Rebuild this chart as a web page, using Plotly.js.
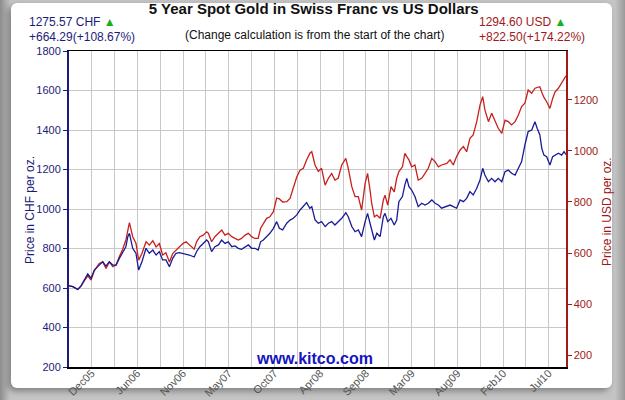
<!DOCTYPE html>
<html>
<head>
<meta charset="utf-8">
<script src="https://cdn.plot.ly/plotly-3.0.1.min.js"></script>
<style>
  html, body { margin: 0; padding: 0; }
  body { width: 625px; height: 400px; position: relative; overflow: hidden;
         background: linear-gradient(to right, #8c8c8c 0px, #c4c4c4 10px, #c4c4c4 615px, #9a9a9a 625px); }
  #frame { position: absolute; left: 11px; top: 3px; width: 601px; height: 385px;
           background: #ffffff; border-radius: 6px;
           box-shadow: -3px 3px 6px rgba(0,0,0,0.35); }
  #chart { position: absolute; left: 0; top: 0; width: 625px; height: 400px; }
</style>
</head>
<body>
<div id="frame"></div>
<div id="chart"></div>
<script>
// ---- Data ----
const dates = [
 "2005-09-24","2005-10-08","2005-10-26","2005-11-07","2005-11-19","2005-12-02","2005-12-14","2005-12-26",
 "2006-01-13","2006-01-26","2006-02-07","2006-02-19","2006-03-04","2006-03-16","2006-03-28","2006-04-09",
 "2006-04-21","2006-04-28","2006-05-04","2006-05-16","2006-05-28","2006-06-07","2006-06-19","2006-07-04",
 "2006-07-16","2006-07-29","2006-08-10","2006-08-22","2006-09-03","2006-09-15","2006-09-28","2006-10-10",
 "2006-10-22","2006-11-03","2006-11-16","2006-11-28","2006-12-10","2006-12-28","2007-01-06","2007-01-18",
 "2007-01-30","2007-02-12","2007-02-18","2007-03-02","2007-03-14","2007-03-27","2007-04-08","2007-04-20",
 "2007-05-02","2007-05-15","2007-05-27","2007-06-08","2007-06-20","2007-07-03","2007-07-15","2007-07-27",
 "2007-08-08","2007-08-20","2007-08-29","2007-09-08","2007-09-20","2007-10-02","2007-10-15","2007-10-27",
 "2007-11-06","2007-11-18","2007-12-03","2007-12-15","2007-12-27","2008-01-09","2008-01-21","2008-02-02",
 "2008-02-14","2008-02-26","2008-03-04","2008-03-16","2008-03-28","2008-04-09","2008-04-22","2008-05-04",
 "2008-05-16","2008-05-28","2008-06-09","2008-06-22","2008-07-07","2008-07-16","2008-07-29","2008-08-10",
 "2008-08-22","2008-09-03","2008-09-16","2008-09-25","2008-10-04","2008-10-10","2008-10-20","2008-10-29",
 "2008-11-10","2008-11-22","2008-11-28","2008-12-08","2008-12-20","2009-01-01","2009-01-10","2009-01-18",
 "2009-01-31","2009-02-09","2009-02-16","2009-02-24","2009-03-06","2009-03-18","2009-03-30","2009-04-12",
 "2009-04-24","2009-05-06","2009-05-19","2009-05-31","2009-06-12","2009-06-24","2009-07-13","2009-07-25",
 "2009-08-06","2009-08-18","2009-08-31","2009-09-12","2009-09-24","2009-10-06","2009-10-18","2009-10-31",
 "2009-11-12","2009-11-22","2009-11-30","2009-12-13","2009-12-25","2010-01-06","2010-01-18","2010-01-31",
 "2010-02-12","2010-02-24","2010-03-08","2010-03-21","2010-04-02","2010-04-14","2010-04-26","2010-05-08",
 "2010-05-21","2010-06-02","2010-06-10","2010-06-20","2010-06-27","2010-07-05","2010-07-15","2010-07-27",
 "2010-08-06","2010-08-15","2010-08-27","2010-09-08","2010-09-17","2010-09-24"
];
const chfPrice = [
 611,607,593,610,640,671,650,691,
 716,733,711,733,716,716,750,776,
 809,860,877,801,776,691,733,801,
 776,792,767,784,742,742,708,750,
 776,779,776,772,767,757,785,809,
 826,843,834,784,809,818,843,826,
 834,809,813,801,796,806,818,801,
 801,792,834,843,860,877,902,936,
 902,894,928,944,953,970,995,1012,
 1032,1004,1012,945,928,936,911,928,
 936,919,936,953,981,961,911,885,
 894,860,936,978,928,894,843,877,
 860,961,978,936,953,919,944,1037,
 1063,1122,1155,1113,1096,1063,1012,1029,
 1020,1029,1046,1029,1020,1004,1012,1020,
 1012,1004,1046,1037,1054,1088,1071,1105,
 1147,1206,1172,1138,1155,1138,1155,1138,
 1189,1197,1181,1172,1206,1240,1324,1392,
 1400,1442,1409,1375,1307,1273,1265,1223,
 1265,1273,1282,1273,1290,1275.57
];
const usdPrice = [
 472,468,457,470,491,510,494,530,
 559,565,539,565,546,553,586,614,
 651,690,719,664,638,572,598,644,
 631,648,624,637,592,601,565,598,
 611,624,637,644,631,615,645,664,
 670,683,677,644,664,677,690,670,
 677,664,657,651,657,670,677,664,
 657,657,697,716,736,742,762,815,
 812,800,801,814,860,899,925,932,
 965,991,997,945,920,932,866,893,
 912,886,893,945,971,932,860,821,
 821,768,873,912,847,795,742,749,
 736,808,827,788,860,840,893,919,
 938,991,978,965,938,945,886,893,
 912,932,971,958,938,945,951,965,
 945,978,1004,1017,997,1050,1063,1115,
 1180,1213,1161,1115,1148,1121,1089,1069,
 1121,1115,1102,1115,1141,1174,1187,1239,
 1226,1246,1250,1252,1230,1210,1193,1167,
 1206,1232,1246,1265,1280,1294.60
];
const tickDates = [
 "2005-12-16","2006-03-10","2006-06-02","2006-08-25","2006-11-17","2007-02-09","2007-05-04","2007-07-27",
 "2007-10-19","2008-01-11","2008-04-04","2008-06-27","2008-09-19","2008-12-12","2009-03-06","2009-05-29",
 "2009-08-21","2009-11-13","2010-02-05","2010-04-30","2010-07-22"
];
const tickLabels = [
 "Dec05","","Jun06","","Nov06","","May07","","Oct07","","Apr08","","Sep08","","Mar09","","Aug09","","Feb10","","Jul10"
];
const chfTicks = [200,400,600,800,1000,1200,1400,1600,1800];
const usdTicks = [200,400,600,800,1000,1200];

const NAVY = '#1c1c78';
const DRED = '#a01818';
const FONT = 'Arial, "Liberation Sans", sans-serif';

const traces = [
  { x: dates, y: usdPrice, yaxis: 'y', type: 'scatter', mode: 'lines',
    line: { color: '#c8201c', width: 1.3 }, name: 'USD', hoverinfo: 'x+y' },
  { x: dates, y: chfPrice, yaxis: 'y2', type: 'scatter', mode: 'lines',
    line: { color: '#1a1a96', width: 1.3 }, name: 'CHF', hoverinfo: 'x+y' }
];

// paper-coordinate helpers (plot area: x 69..566, y 51..367)
const px = v => (v - 69) / 497;
const py = v => (367 - v) / 316;

const layout = {
  width: 625, height: 400,
  margin: { l: 69, r: 59, t: 51, b: 33, pad: 0 },
  paper_bgcolor: 'rgba(0,0,0,0)',
  plot_bgcolor: '#ffffff',
  showlegend: false,
  font: { family: FONT, size: 11, color: '#333' },
  title: { text: '<b>5 Year Spot Gold in Swiss Franc vs US Dollars</b>',
           font: { family: FONT, size: 15, color: '#111' },
           x: 0.502, xanchor: 'center', y: 0.978, yanchor: 'middle', yref: 'container' },
  xaxis: {
    type: 'date', range: ['2005-09-24', '2010-09-24'],
    tickmode: 'array', tickvals: tickDates, ticktext: tickLabels,
    tickangle: -45, tickfont: { family: FONT, size: 11, color: '#555' },
    ticklabelstandoff: -6,
    ticks: '', showgrid: true, gridcolor: '#c8c8c8', gridwidth: 1,
    showline: true, linecolor: '#000', linewidth: 1.5, mirror: true,
    zeroline: false, fixedrange: true
  },
  yaxis: {
    side: 'right', range: [153, 1392],
    tickmode: 'array', tickvals: usdTicks,
    tickfont: { family: FONT, size: 11, color: DRED },
    ticks: 'outside', ticklen: 4, tickcolor: DRED, tickwidth: 1,
    showgrid: false, zeroline: false,
    showline: true, linecolor: DRED, linewidth: 1.5,
    fixedrange: true
  },
  yaxis2: {
    overlaying: 'y', side: 'left', range: [200, 1800],
    tickmode: 'array', tickvals: chfTicks,
    tickfont: { family: FONT, size: 11, color: NAVY },
    ticks: 'outside', ticklen: 4, tickcolor: NAVY, tickwidth: 1,
    showgrid: true, gridcolor: '#c8c8c8', gridwidth: 1, zeroline: false,
    showline: true, linecolor: NAVY, linewidth: 2,
    fixedrange: true
  },
  annotations: [
    { xref: 'paper', yref: 'paper', x: px(30), y: py(210), xanchor: 'center', yanchor: 'middle',
      textangle: -90, showarrow: false, text: 'Price in CHF per oz.',
      font: { family: FONT, size: 12, color: NAVY } },
    { xref: 'paper', yref: 'paper', x: px(607), y: py(212), xanchor: 'center', yanchor: 'middle',
      textangle: -90, showarrow: false, text: 'Price in USD per oz.',
      font: { family: FONT, size: 12, color: DRED } },
    { xref: 'paper', yref: 'paper', x: px(27), y: py(22), xanchor: 'left', yanchor: 'middle',
      showarrow: false, text: "1275.57 CHF <span style='color:#18b018'>▲</span>",
      font: { family: FONT, size: 12, color: NAVY } },
    { xref: 'paper', yref: 'paper', x: px(27), y: py(37), xanchor: 'left', yanchor: 'middle',
      showarrow: false, text: '+664.29(+108.67%)',
      font: { family: FONT, size: 12, color: NAVY } },
    { xref: 'paper', yref: 'paper', x: px(477), y: py(22), xanchor: 'left', yanchor: 'middle',
      showarrow: false, text: "1294.60 USD <span style='color:#18b018'>▲</span>",
      font: { family: FONT, size: 12, color: DRED } },
    { xref: 'paper', yref: 'paper', x: px(477), y: py(37), xanchor: 'left', yanchor: 'middle',
      showarrow: false, text: '+822.50(+174.22%)',
      font: { family: FONT, size: 12, color: DRED } },
    { xref: 'paper', yref: 'paper', x: px(314), y: py(35), xanchor: 'center', yanchor: 'middle',
      showarrow: false, text: '(Change calculation is from the start of the chart)',
      font: { family: FONT, size: 12, color: '#111' } },
    { xref: 'paper', yref: 'paper', x: px(314), y: py(358), xanchor: 'center', yanchor: 'middle',
      showarrow: false, text: '<b>www.kitco.com</b>',
      font: { family: FONT, size: 16, color: '#1414c0' } }
  ]
};

Plotly.newPlot('chart', traces, layout, { staticPlot: true, displayModeBar: false });
</script>
</body>
</html>
